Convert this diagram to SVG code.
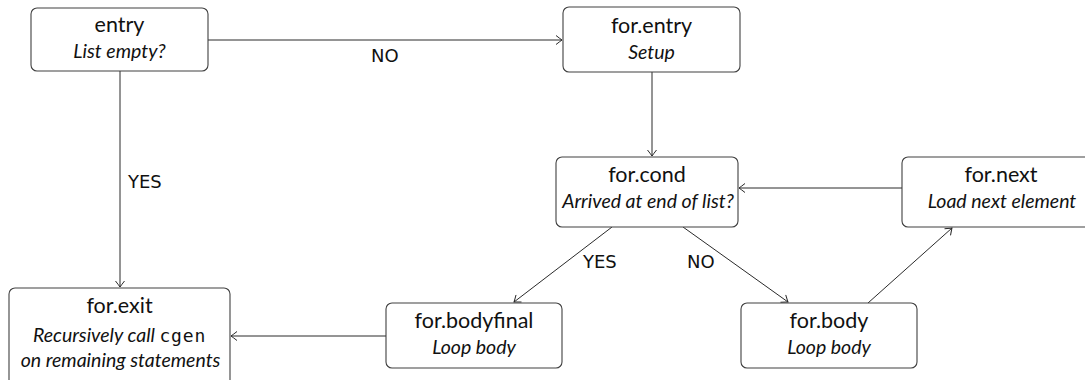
<svg xmlns="http://www.w3.org/2000/svg" width="1085" height="380" viewBox="0 0 1085 380">
  <style>
    .box { fill: #ffffff; stroke: #404040; stroke-width: 1.1; }
    .edge { fill: none; stroke: #2a2a2a; stroke-width: 1; marker-end: url(#arrow); }
    .title { font-family: Lato, "Open Sans", sans-serif; font-size: 21.5px; fill: #111; text-anchor: middle; }
    .sub { font-family: Lato, "Open Sans", sans-serif; font-size: 19.5px; font-style: italic; fill: #111; text-anchor: middle; }
    .mono { font-family: "DejaVu Sans Mono", "Liberation Mono", monospace; font-style: normal; font-size: 18px; letter-spacing: 0.8px; }
    .label { font-family: "DejaVu Sans", sans-serif; font-size: 18px; fill: #111; }
  </style>
  <defs>
    <marker id="arrow" viewBox="-7 -5 8 10" refX="0" refY="0" markerWidth="8" markerHeight="10" markerUnits="userSpaceOnUse" orient="auto">
      <path d="M-6,-4.5 Q-1.5,-1 0,0 Q-1.5,1 -6,4.5" fill="none" stroke="#2a2a2a" stroke-width="1"/>
    </marker>
  </defs>

  <rect width="1085" height="380" fill="#ffffff"/>

  <g id="connectors">
    <line class="edge" x1="208" y1="40" x2="562" y2="40"/>
    <text class="label" x="371" y="62">NO</text>
    <line class="edge" x1="120" y1="71" x2="120" y2="287"/>
    <text class="label" x="128" y="188">YES</text>
    <line class="edge" x1="652" y1="72" x2="652" y2="156"/>
    <line class="edge" x1="902" y1="188" x2="739" y2="188"/>
    <line class="edge" x1="612" y1="227" x2="514" y2="302"/>
    <text class="label" x="583" y="268">YES</text>
    <line class="edge" x1="683" y1="227" x2="788" y2="302"/>
    <text class="label" x="687" y="268">NO</text>
    <line class="edge" x1="868" y1="303" x2="952" y2="228"/>
    <line class="edge" x1="386" y1="336" x2="231" y2="336"/>
  </g>

  <g id="entry">
    <rect class="box" x="31" y="8" width="177" height="63" rx="6"/>
    <text class="title" x="119.5" y="32">entry</text>
    <text class="sub" x="119.5" y="58">List empty?</text>
  </g>

  <g id="for-entry">
    <rect class="box" x="563" y="7" width="177" height="65" rx="6"/>
    <text class="title" x="651.5" y="33">for.entry</text>
    <text class="sub" x="651.5" y="59">Setup</text>
  </g>

  <g id="for-cond">
    <rect class="box" x="556" y="157" width="182" height="70" rx="6"/>
    <text class="title" x="647" y="182">for.cond</text>
    <text class="sub" x="648" y="208">Arrived at end of list?</text>
  </g>

  <g id="for-next">
    <rect class="box" x="902" y="157" width="200" height="70" rx="6"/>
    <text class="title" x="1001" y="182">for.next</text>
    <text class="sub" x="1002" y="208">Load next element</text>
  </g>

  <g id="for-exit">
    <rect class="box" x="9" y="288" width="221" height="100" rx="6"/>
    <text class="title" x="119.5" y="313">for.exit</text>
    <text class="sub" x="119.5" y="342">Recursively call <tspan class="mono">cgen</tspan></text>
    <text class="sub" x="120.5" y="367">on remaining statements</text>
  </g>

  <g id="for-bodyfinal">
    <rect class="box" x="386" y="303" width="176" height="65" rx="6"/>
    <text class="title" x="474" y="328">for.bodyfinal</text>
    <text class="sub" x="474" y="354">Loop body</text>
  </g>

  <g id="for-body">
    <rect class="box" x="741" y="303" width="176" height="65" rx="6"/>
    <text class="title" x="829" y="328">for.body</text>
    <text class="sub" x="829" y="354">Loop body</text>
  </g>
</svg>
